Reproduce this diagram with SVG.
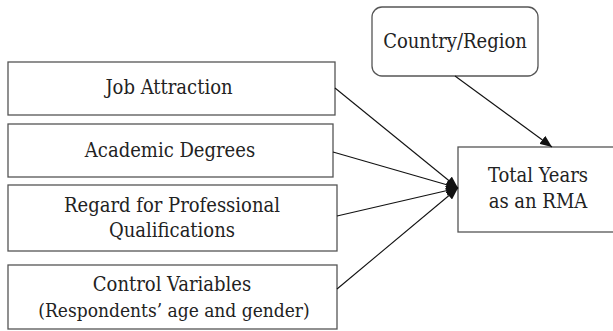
<svg xmlns="http://www.w3.org/2000/svg" width="613" height="331" viewBox="0 0 613 331">
<style>
.box{fill:#fff;stroke:#555;stroke-width:1.3}
.t{font-family:'DejaVu Serif',serif;font-stretch:condensed;font-size:20px;fill:#222;text-anchor:middle}
.c{stroke:#111;stroke-width:1.1;fill:none;marker-end:url(#ah)}
</style>
<defs>
<marker id="ah" viewBox="0 0 12 10" refX="12" refY="5" markerWidth="12" markerHeight="10" markerUnits="userSpaceOnUse" orient="auto">
<path d="M0,0 L12,5 L0,10 Z" fill="#111"/>
</marker>
</defs>
<rect width="613" height="331" fill="#fff"/>
<g id="country"><rect class="box" x="372" y="7" width="166" height="69" rx="10"/><text class="t" x="455" y="48">Country/Region</text></g>
<g id="job"><rect class="box" x="8" y="62" width="327" height="53"/><text class="t" x="169" y="94">Job Attraction</text></g>
<g id="academic"><rect class="box" x="8" y="124" width="325" height="53"/><text class="t" x="170" y="157">Academic Degrees</text></g>
<g id="regard"><rect class="box" x="8" y="185" width="329" height="66"/><text class="t" x="172" y="212">Regard for Professional</text><text class="t" x="172" y="237">Qualifications</text></g>
<g id="control"><rect class="box" x="8" y="265" width="329" height="64"/><text class="t" x="172" y="291">Control Variables</text><text class="t" x="174" y="317" style="font-size:19px">(Respondents’ age and gender)</text></g>
<g id="total"><rect class="box" x="458" y="147" width="160" height="85"/><text class="t" x="538" y="182">Total Years</text><text class="t" x="538" y="208">as an RMA</text></g>
<g id="connectors">
<line class="c" x1="455" y1="76" x2="552" y2="147"/>
<line class="c" x1="335" y1="88" x2="458" y2="188"/>
<line class="c" x1="333" y1="152" x2="458" y2="188"/>
<line class="c" x1="337" y1="216" x2="458" y2="188"/>
<line class="c" x1="337" y1="289" x2="458" y2="188"/>
</g>
</svg>
